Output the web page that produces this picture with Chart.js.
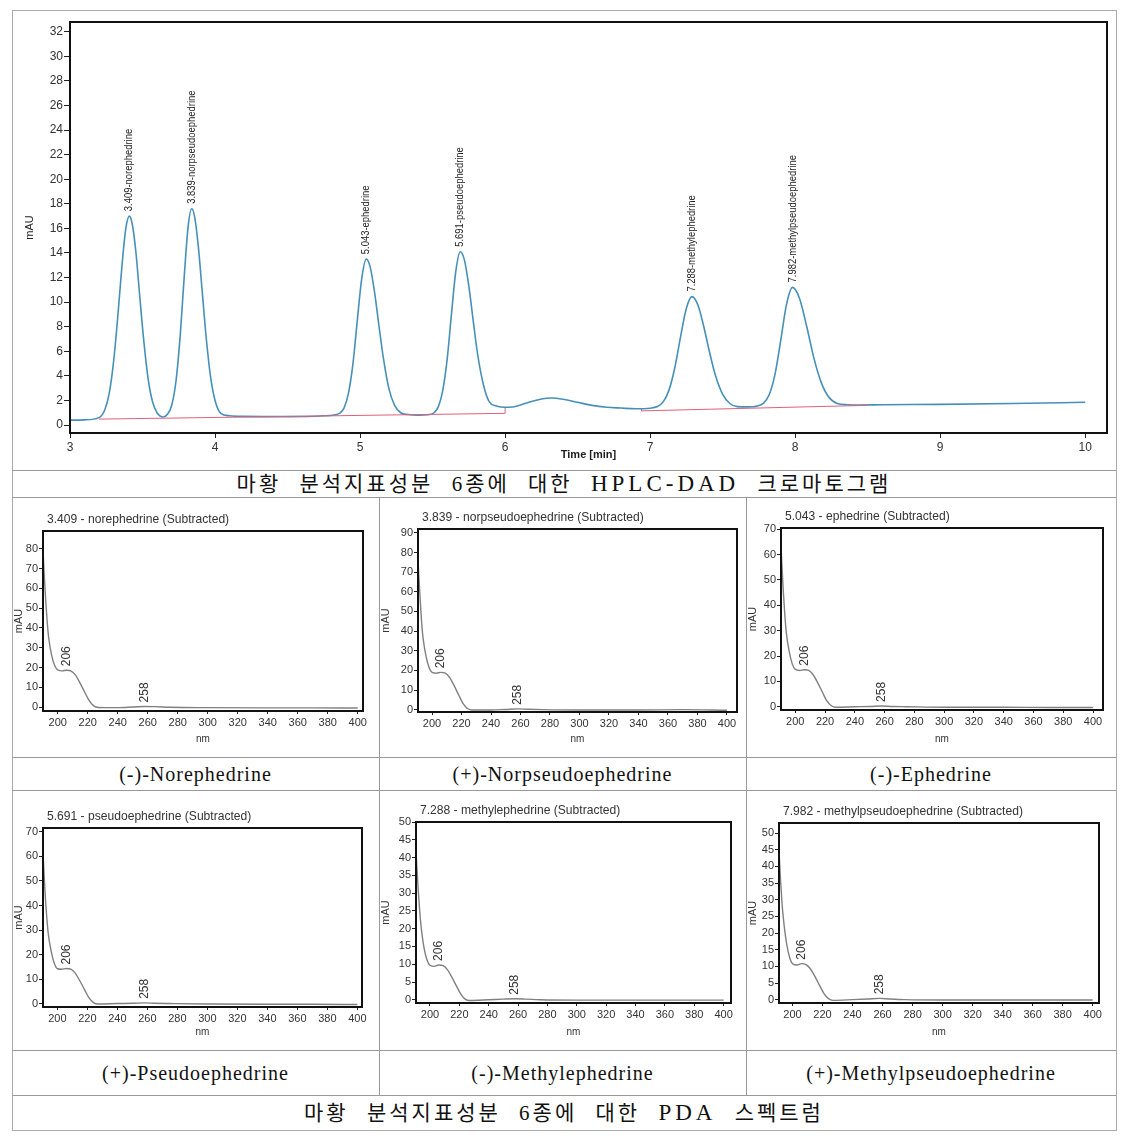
<!DOCTYPE html>
<html>
<head>
<meta charset="utf-8">
<script src="https://cdn.jsdelivr.net/npm/chart.js@4.4.1/dist/chart.umd.min.js"></script>
<style>
  body { margin: 0; background: #fff; width: 1129px; height: 1138px; position: relative; overflow: hidden; }
  .frame { position: absolute; left: 12px; top: 10px; width: 1103px; height: 1119px; border: 1px solid #aaa; }
  .hl { position: absolute; left: 12px; width: 1104px; height: 0; border-top: 1px solid #999; }
  .vl { position: absolute; width: 0; border-left: 1px solid #999; }
  .cap { position: absolute; text-align: center; white-space: nowrap; color: #111;
         font-family: "Liberation Serif", "Noto Sans CJK KR", serif; }
  .big { font-size: 21px; letter-spacing: 3px; word-spacing: 10px; }
  .big .lat { font-size: 23px; letter-spacing: 4px; }
  canvas { position: absolute; }
</style>
</head>
<body>
<div class="frame"></div>
<div class="hl" style="top:470px"></div>
<div class="hl" style="top:497px"></div>
<div class="hl" style="top:757px"></div>
<div class="hl" style="top:790px"></div>
<div class="hl" style="top:1050px"></div>
<div class="hl" style="top:1095px"></div>
<div class="vl" style="left:379px;top:497px;height:598px"></div>
<div class="vl" style="left:746px;top:497px;height:598px"></div>

<canvas id="chrom" width="1104" height="460" style="left:12px;top:10px"></canvas>

<div class="cap big" style="left:12px;top:471px;width:1104px;height:26px;line-height:26px">마황 분석지표성분 6종에 대한 <span class="lat">HPLC-DAD</span> 크로마토그램</div>
<div class="cap big" style="left:12px;top:1096px;width:1104px;height:34px;line-height:34px">마황 분석지표성분 6종에 대한 <span class="lat">PDA</span> 스펙트럼</div>

<script>
// chromatogram trace (time in min, signal in mAU)
const chromTime = [3.00, 3.10, 3.20, 3.24, 3.27, 3.30, 3.33, 3.36, 3.385, 3.409, 3.43, 3.455, 3.48, 3.51, 3.54, 3.57, 3.60, 3.645,
  3.67, 3.70, 3.73, 3.76, 3.79, 3.815, 3.839, 3.86, 3.885, 3.91, 3.94, 3.97, 4.00, 4.04, 4.10, 4.20, 4.50, 4.75,
  4.82, 4.86, 4.89, 4.92, 4.95, 4.98, 5.01, 5.043, 5.07, 5.10, 5.13, 5.16, 5.20, 5.24, 5.28, 5.33, 5.40,
  5.47, 5.51, 5.54, 5.57, 5.60, 5.63, 5.66, 5.691, 5.72, 5.75, 5.78, 5.81, 5.85, 5.89, 5.94, 6.00, 6.05, 6.15, 6.25, 6.32,
  6.40, 6.50, 6.60, 6.70, 6.80, 6.90, 7.00, 7.05, 7.09, 7.13, 7.17, 7.21, 7.25, 7.288, 7.33, 7.37, 7.41, 7.45, 7.50,
  7.55, 7.60, 7.67, 7.74, 7.78, 7.82, 7.86, 7.90, 7.94, 7.982, 8.03, 8.08, 8.13, 8.18, 8.23, 8.29,
  8.36, 8.45, 8.60, 9.00, 9.50, 10.00];
const chromMAU = [0.40, 0.42, 0.60, 1.24, 2.55, 5.1, 8.9, 13.2, 16.0, 17.0, 16.3, 14.0, 10.6, 6.7, 3.65, 1.85, 1.0, 0.65,
  0.85, 1.55, 3.5, 7.3, 12.5, 16.2, 17.6, 16.9, 14.5, 11.1, 7.0, 3.85, 2.0, 0.95, 0.75, 0.70, 0.68, 0.75,
  0.82, 0.97, 1.4, 2.6, 4.9, 8.4, 11.8, 13.5, 12.85, 10.8, 8.1, 5.5, 2.9, 1.56, 1.0, 0.85, 0.80,
  0.83, 1.0, 1.5, 2.8, 5.3, 9.0, 12.5, 14.1, 13.4, 11.3, 8.5, 5.8, 3.3, 1.9, 1.55, 1.45, 1.47, 1.8, 2.12, 2.2,
  2.1, 1.85, 1.6, 1.45, 1.38, 1.32, 1.37, 1.5, 1.88, 2.84, 4.66, 7.2, 9.5, 10.45, 9.75, 8.0, 5.9, 4.05, 2.5,
  1.75, 1.5, 1.48, 1.55, 1.76, 2.44, 4.08, 6.85, 9.8, 11.2, 10.3, 8.0, 5.4, 3.45, 2.3, 1.75,
  1.65, 1.63, 1.65, 1.68, 1.75, 1.85];

// integration baselines
const base1Time = [3.20, 6.00, 6.00];
const base1MAU = [0.48, 0.95, 1.40];
const base2Time = [6.94, 6.94, 8.50];
const base2MAU = [1.30, 1.15, 1.60];

const peakTimes = [3.409, 3.839, 5.043, 5.691, 7.288, 7.982];
const peakHeights = [17.0, 17.6, 13.5, 14.1, 10.45, 11.2];
const peakNames = ['norephedrine', 'norpseudoephedrine', 'ephedrine', 'pseudoephedrine', 'methylephedrine', 'methylpseudoephedrine'];

const chromXTicks = [3, 4, 5, 6, 7, 8, 9, 10];
const chromYTicks = [0, 2, 4, 6, 8, 10, 12, 14, 16, 18, 20, 22, 24, 26, 28, 30, 32];

// PDA spectra
const specNm = [190, 191, 192, 193, 194, 196, 198, 200, 203, 206, 209, 212, 215, 218, 221, 224, 227, 240, 250, 258, 265, 275, 300, 340, 370, 400];
const specNorephedrine = [82, 67, 54, 43, 35, 26, 21, 18.8, 18.3, 18.6, 18.2, 16, 12, 7.5, 3.2, 0.6, -0.2, -0.3, 0, 0.3, 0.2, -0.1, -0.3, -0.4, -0.4, -0.5];
const specNorpseudoephedrine = [84, 69, 56, 44, 36, 27, 21.5, 19, 18.6, 19, 18.6, 16.3, 12.2, 7.6, 3.2, 0.6, -0.2, -0.2, 0.1, 0.4, 0.2, 0, -0.2, -0.2, 0, -0.3];
const specEphedrine = [68, 56, 45, 36, 29, 21.5, 16.8, 14.7, 14.3, 14.6, 14.3, 12.6, 9.5, 6, 2.5, 0.5, -0.2, 0, 0.1, 0.3, 0.1, 0, -0.2, -0.2, -0.3, -0.3];
const specPseudoephedrine = [66, 54, 43, 34.5, 28, 21, 16.3, 14.2, 14, 14.3, 14, 12.3, 9.2, 5.8, 2.4, 0.4, -0.2, 0, 0.1, 0.3, 0.1, 0, -0.2, -0.3, -0.3, -0.4];
const specMethylephedrine = [46, 38, 31, 25, 20.5, 14.5, 11.2, 9.7, 9.4, 9.8, 9.6, 8.4, 6.3, 3.9, 1.6, 0.2, -0.2, 0, 0.2, 0.3, 0.2, 0, -0.1, -0.1, -0.1, -0.1];
const specMethylpseudoephedrine = [54, 45, 36, 29, 24, 17, 12.8, 10.8, 10.4, 10.8, 10.5, 9.2, 6.9, 4.3, 1.8, 0.3, -0.2, 0, 0.2, 0.4, 0.2, 0, -0.1, -0.1, -0.1, -0.1];

const specTitles = ['3.409 - norephedrine (Subtracted)', '3.839 - norpseudoephedrine (Subtracted)', '5.043 - ephedrine (Subtracted)',
  '5.691 - pseudoephedrine (Subtracted)', '7.288 - methylephedrine (Subtracted)', '7.982 - methylpseudoephedrine (Subtracted)'];
const specNames = ['(-)-Norephedrine', '(+)-Norpseudoephedrine', '(-)-Ephedrine',
  '(+)-Pseudoephedrine', '(-)-Methylephedrine', '(+)-Methylpseudoephedrine'];
const specMarks = [206, 258];
const specXTicks = [200, 220, 240, 260, 280, 300, 320, 340, 360, 380, 400];
const yTicks90 = [0, 10, 20, 30, 40, 50, 60, 70, 80, 90];
const yTicks50 = [0, 5, 10, 15, 20, 25, 30, 35, 40, 45, 50];

const SANS = "'Liberation Sans', Arial, sans-serif";

// black box round the plot area
const boxPlugin = {
  id: 'box',
  afterDatasetsDraw(chart) {
    const a = chart.chartArea, ctx = chart.ctx;
    ctx.save();
    ctx.strokeStyle = '#111';
    ctx.lineWidth = 2;
    ctx.strokeRect(a.left, a.top, a.right - a.left, a.bottom - a.top);
    ctx.restore();
  }
};

// text drawn with a horizontal squeeze (the original uses a condensed face)
function squeezed(ctx, text, x, y, rot, sq) {
  ctx.save();
  ctx.translate(x, y);
  if (rot) ctx.rotate(-Math.PI / 2);
  ctx.scale(sq, 1);
  ctx.textAlign = 'left';
  ctx.textBaseline = 'middle';
  ctx.fillText(text, 0, 0);
  ctx.restore();
}

const peakLabelPlugin = {
  id: 'peakLabels',
  afterDatasetsDraw(chart) {
    const ctx = chart.ctx, xs = chart.scales.x, ys = chart.scales.y;
    ctx.save();
    ctx.fillStyle = '#222';
    ctx.font = '11.5px ' + SANS;
    peakTimes.forEach((t, i) => {
      const label = t.toFixed(3) + '-' + peakNames[i];
      squeezed(ctx, label, xs.getPixelForValue(t), ys.getPixelForValue(peakHeights[i]) - 5, true, 0.82);
    });
    ctx.restore();
  }
};

function pts(xs, ys) { return xs.map((x, i) => ({ x: x, y: ys[i] })); }
function fixTicks(list) { return s => { s.ticks = list.map(v => ({ value: v })); }; }

new Chart(document.getElementById('chrom'), {
  type: 'scatter',
  data: {
    datasets: [
      { data: pts(base1Time, base1MAU), showLine: true, borderColor: '#e0607a', borderWidth: 1, pointRadius: 0 },
      { data: pts(base2Time, base2MAU), showLine: true, borderColor: '#e0607a', borderWidth: 1, pointRadius: 0 },
      { data: pts(chromTime, chromMAU), showLine: true, borderColor: '#4690b8', borderWidth: 1.6, pointRadius: 0,
        cubicInterpolationMode: 'monotone' }
    ]
  },
  options: {
    responsive: false,
    animation: false,
    layout: { padding: { top: 12, right: 9, left: 0, bottom: 0 } },
    plugins: { legend: { display: false }, tooltip: { enabled: false } },
    scales: {
      x: {
        type: 'linear', min: 3, max: 10.15,
        afterBuildTicks: fixTicks(chromXTicks),
        afterFit: s => { s.height = 37; },
        grid: { drawOnChartArea: false, drawTicks: true, tickLength: 5, color: '#222' },
        border: { display: false },
        ticks: { color: '#333', font: { family: SANS, size: 12 }, padding: 2, maxRotation: 0 },
        title: { display: true, text: 'Time [min]', color: '#222', font: { family: SANS, size: 11, weight: 'bold' },
                 padding: { top: 0, bottom: 8 } }
      },
      y: {
        type: 'linear', min: -0.65, max: 32.8,
        afterBuildTicks: fixTicks(chromYTicks),
        afterFit: s => { s.width = 58; },
        grid: { drawOnChartArea: false, drawTicks: true, tickLength: 6, color: '#222' },
        border: { display: false },
        ticks: { color: '#333', font: { family: SANS, size: 12 }, padding: 1 },
        title: { display: true, text: 'mAU', color: '#222', font: { family: SANS, size: 11 }, padding: { top: 11, bottom: 0 } }
      }
    }
  },
  plugins: [boxPlugin, peakLabelPlugin]
});

// spectrum panels: cell rectangle, plot rectangle and axis limits
const panels = [
  { cell: [12, 497, 367, 260], plot: [43, 531, 363, 711], xr: [190.2, 403.5], yr: [-2, 89], yt: yTicks90.slice(0, 9), vals: specNorephedrine },
  { cell: [379, 497, 367, 260], plot: [418, 529, 737, 712], xr: [190.5, 406.8], yr: [-1.2, 92], yt: yTicks90, vals: specNorpseudoephedrine },
  { cell: [746, 497, 370, 260], plot: [781, 528, 1103, 710], xr: [190.4, 406.7], yr: [-1.3, 70.5], yt: yTicks90.slice(0, 8), vals: specEphedrine },
  { cell: [12, 790, 367, 260], plot: [43, 828, 362, 1007], xr: [190.4, 403.1], yr: [-1.4, 71.6], yt: yTicks90.slice(0, 8), vals: specPseudoephedrine },
  { cell: [379, 790, 367, 260], plot: [416, 822, 731, 1003], xr: [190.5, 405], yr: [-0.9, 50], yt: yTicks50, vals: specMethylephedrine },
  { cell: [746, 790, 370, 260], plot: [779, 823, 1099, 1003], xr: [191, 404.2], yr: [-1, 53], yt: yTicks50, vals: specMethylpseudoephedrine }
];

panels.forEach((p, k) => {
  const cv = document.createElement('canvas');
  const [cx, cy, cw, ch] = p.cell;
  const [pl, pt, pr, pb] = p.plot;
  cv.width = cw; cv.height = ch;
  cv.style.left = cx + 'px'; cv.style.top = cy + 'px';
  document.body.appendChild(cv);

  const markPlugin = {
    id: 'marks' + k,
    afterDatasetsDraw(chart) {
      const ctx = chart.ctx, xs = chart.scales.x, ys = chart.scales.y, a = chart.chartArea;
      ctx.save();
      ctx.fillStyle = '#333';
      ctx.font = '13px ' + SANS;
      squeezed(ctx, specTitles[k], a.left + 4, a.top - 12, false, 0.93);
      ctx.font = '12px ' + SANS;
      specMarks.forEach(nm => {
        const v = p.vals[specNm.indexOf(nm)];
        squeezed(ctx, String(nm), xs.getPixelForValue(nm), ys.getPixelForValue(v) - 4, true, 1);
      });
      ctx.restore();
    }
  };

  new Chart(cv, {
    type: 'scatter',
    data: {
      datasets: [{ data: pts(specNm, p.vals), showLine: true, borderColor: '#808080', borderWidth: 1.4, pointRadius: 0,
                   cubicInterpolationMode: 'monotone' }]
    },
    options: {
      responsive: false,
      animation: false,
      layout: { padding: { top: pt - cy, right: cx + cw - pr, left: 0, bottom: 0 } },
      plugins: { legend: { display: false }, tooltip: { enabled: false } },
      scales: {
        x: {
          type: 'linear', min: p.xr[0], max: p.xr[1],
          afterBuildTicks: fixTicks(specXTicks),
          afterFit: s => { s.height = cy + ch - pb; },
          grid: { drawOnChartArea: false, drawTicks: true, tickLength: 3, color: '#222' },
          border: { display: false },
          ticks: { color: '#333', font: { family: SANS, size: 11 }, padding: 2, maxRotation: 0, autoSkip: false },
          title: { display: true, text: 'nm', color: '#333', font: { family: SANS, size: 10 }, padding: { top: 0, bottom: 12 } }
        },
        y: {
          type: 'linear', min: p.yr[0], max: p.yr[1],
          afterBuildTicks: fixTicks(p.yt),
          afterFit: s => { s.width = pl - cx; },
          grid: { drawOnChartArea: false, drawTicks: true, tickLength: 4, color: '#222' },
          border: { display: false },
          ticks: { color: '#333', font: { family: SANS, size: 11 }, padding: 1, autoSkip: false },
          title: { display: true, text: 'mAU', color: '#333', font: { family: SANS, size: 11 }, padding: { top: 0, bottom: 0 } }
        }
      }
    },
    plugins: [boxPlugin, markPlugin]
  });

  // compound name row under each panel
  const lab = document.createElement('div');
  lab.className = 'cap';
  lab.textContent = specNames[k];
  const rowTop = k < 3 ? 758 : 1051;
  const rowH = k < 3 ? 32 : 44;
  lab.style.cssText = `left:${cx}px;top:${rowTop}px;width:${cw}px;height:${rowH}px;line-height:${rowH}px;font-size:20px;letter-spacing:1px`;
  document.body.appendChild(lab);
});
</script>
</body>
</html>
